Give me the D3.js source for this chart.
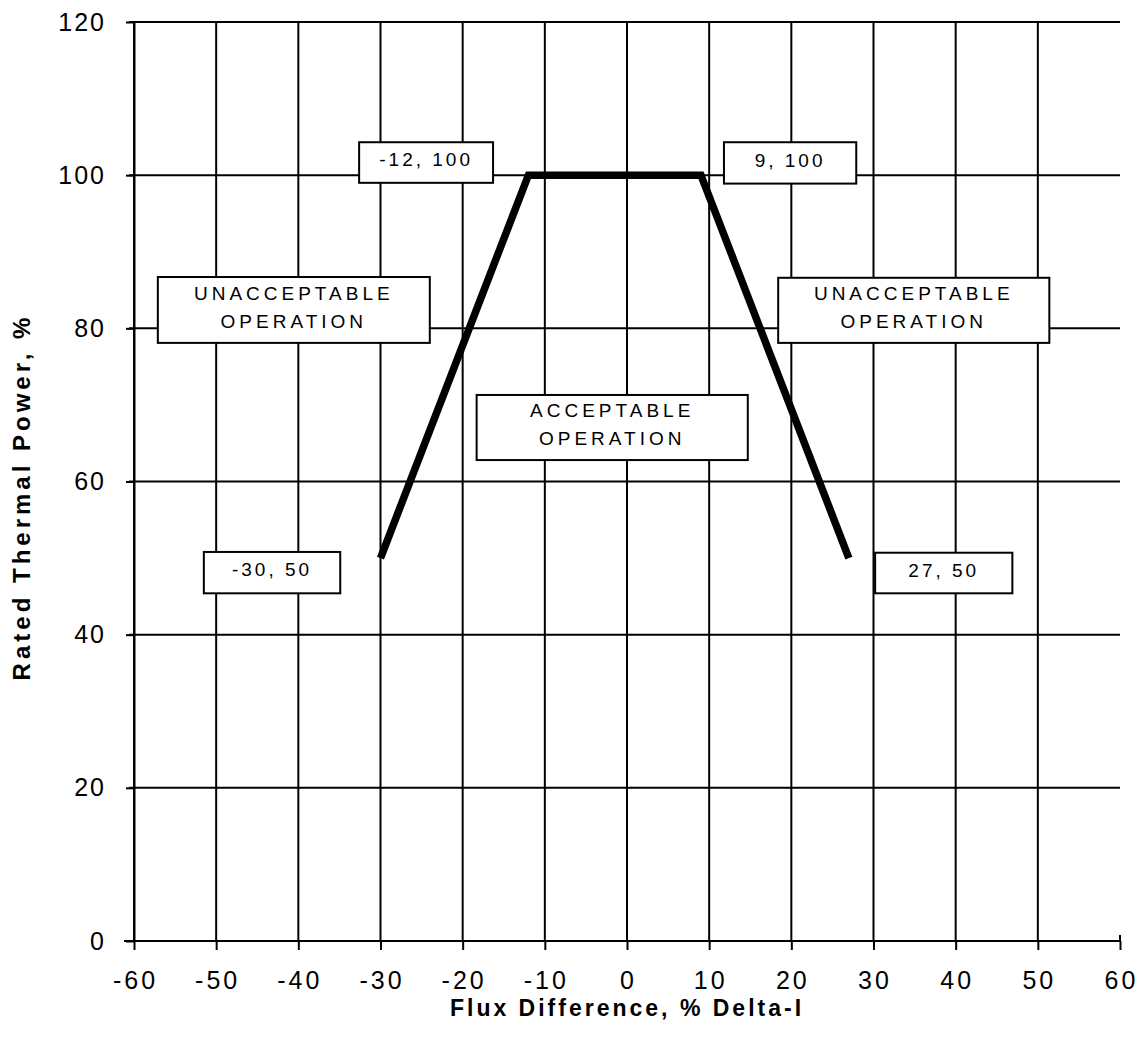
<!DOCTYPE html>
<html>
<head>
<meta charset="utf-8">
<script src="https://cdn.jsdelivr.net/npm/d3@7"></script>
<style>
  body { margin: 0; background: #fff; }
  svg text { font-family: "Liberation Sans", Arial, sans-serif; fill: #000; }
</style>
</head>
<body>
<div id="chart"></div>
<script>
// limit line points (flux difference, rated thermal power)
var fluxDiff = [-30, -12, 9, 27];
var thermalPower = [50, 100, 100, 50];

var xTicks = [-60, -50, -40, -30, -20, -10, 0, 10, 20, 30, 40, 50, 60];
var yTicks = [0, 20, 40, 60, 80, 100, 120];

// box labels: text lines, and box extent in data units
var boxText = [["-12, 100"], ["9, 100"], ["UNACCEPTABLE", "OPERATION"], ["ACCEPTABLE", "OPERATION"],
               ["UNACCEPTABLE", "OPERATION"], ["-30, 50"], ["27, 50"]];
var boxX0 = [-32.6, 11.8, -57.1, -18.3, 18.4, -51.5, 30.2];
var boxX1 = [-16.3, 27.9, -24.0, 14.7, 51.4, -34.9, 46.9];
var boxY0 = [104.3, 104.3, 86.7, 71.3, 86.6, 50.8, 50.7];
var boxY1 = [99.0, 98.9, 78.1, 62.8, 78.1, 45.4, 45.4];

var width = 1143, height = 1048;

var svg = d3.select("#chart").append("svg")
    .attr("width", width)
    .attr("height", height);

var x = d3.scaleLinear().domain([-60, 60]).range([134, 1120]);
var y = d3.scaleLinear().domain([0, 120]).range([941, 22]);

// vertical grid lines
svg.append("g").selectAll("line")
    .data(xTicks.filter(function(d){ return d < 60; }))
    .enter().append("line")
    .attr("x1", function(d){ return x(d); })
    .attr("x2", function(d){ return x(d); })
    .attr("y1", y(120))
    .attr("y2", y(0))
    .attr("stroke", "#000")
    .attr("stroke-width", 2);

// horizontal grid lines
svg.append("g").selectAll("line")
    .data(yTicks.filter(function(d){ return d > 0; }))
    .enter().append("line")
    .attr("x1", x(-60) - 5)
    .attr("x2", x(60))
    .attr("y1", function(d){ return y(d); })
    .attr("y2", function(d){ return y(d); })
    .attr("stroke", "#000")
    .attr("stroke-width", 2);

var plain = function(d){ return String(d); };

// x axis
var xAxis = svg.append("g")
    .attr("transform", "translate(0," + y(0) + ")")
    .call(d3.axisBottom(x).tickValues(xTicks).tickFormat(plain)
        .tickSize(9).tickPadding(21).tickSizeOuter(0));
xAxis.select(".domain").attr("stroke-width", 2).attr("d", "M" + (x(-60) - 10) + ",0H" + x(60) + "V-6");
xAxis.selectAll(".tick line").attr("stroke-width", 2);
xAxis.selectAll(".tick text")
    .style("font-size", "25px")
    .style("letter-spacing", "3px")
    .attr("dx", "1px");

// y axis
var yAxis = svg.append("g")
    .attr("transform", "translate(" + x(-60) + ",0)")
    .call(d3.axisLeft(y).tickValues(yTicks).tickFormat(plain)
        .tickSize(8).tickPadding(20).tickSizeOuter(0));
yAxis.select(".domain").attr("stroke-width", 2);
yAxis.selectAll(".tick line").attr("stroke-width", 2);
yAxis.selectAll(".tick text")
    .style("font-size", "25px")
    .style("letter-spacing", "2px");

// limit line
var line = d3.line()
    .x(function(d){ return x(d[0]); })
    .y(function(d){ return y(d[1]); });

svg.append("path")
    .datum(d3.zip(fluxDiff, thermalPower))
    .attr("d", line)
    .attr("fill", "none")
    .attr("stroke", "#000")
    .attr("stroke-width", 7.5)
    .attr("stroke-linejoin", "miter");

// label boxes
var boxes = svg.append("g").selectAll("g")
    .data(boxText)
    .enter().append("g");

boxes.append("rect")
    .attr("x", function(d, i){ return x(boxX0[i]); })
    .attr("y", function(d, i){ return y(boxY0[i]); })
    .attr("width", function(d, i){ return x(boxX1[i]) - x(boxX0[i]); })
    .attr("height", function(d, i){ return y(boxY1[i]) - y(boxY0[i]); })
    .attr("fill", "#fff")
    .attr("stroke", "#000")
    .attr("stroke-width", 2);

boxes.each(function(lines, i){
    var g = d3.select(this);
    var cx = (x(boxX0[i]) + x(boxX1[i])) / 2;
    var top = y(boxY0[i]), bot = y(boxY1[i]);
    var mid = (top + bot) / 2;
    var n = lines.length;
    lines.forEach(function(t, j){
        g.append("text")
            .attr("x", cx)
            .attr("y", mid + (j - (n - 1) / 2) * 28 - 3)
            .attr("dy", "0.35em")
            .attr("text-anchor", "middle")
            .style("font-size", "19px")
            .style("letter-spacing", n > 1 ? "4px" : "3px")
            .text(t);
    });
});

// axis titles
svg.append("text")
    .attr("x", x(0))
    .attr("y", 1016)
    .attr("text-anchor", "middle")
    .style("font-size", "23px")
    .style("font-weight", "bold")
    .style("letter-spacing", "3px")
    .text("Flux Difference, % Delta-I");

svg.append("text")
    .attr("transform", "translate(30," + 497 + ") rotate(-90)")
    .attr("text-anchor", "middle")
    .style("font-size", "24px")
    .style("font-weight", "bold")
    .style("letter-spacing", "4px")
    .text("Rated Thermal Power, %");
</script>
</body>
</html>
